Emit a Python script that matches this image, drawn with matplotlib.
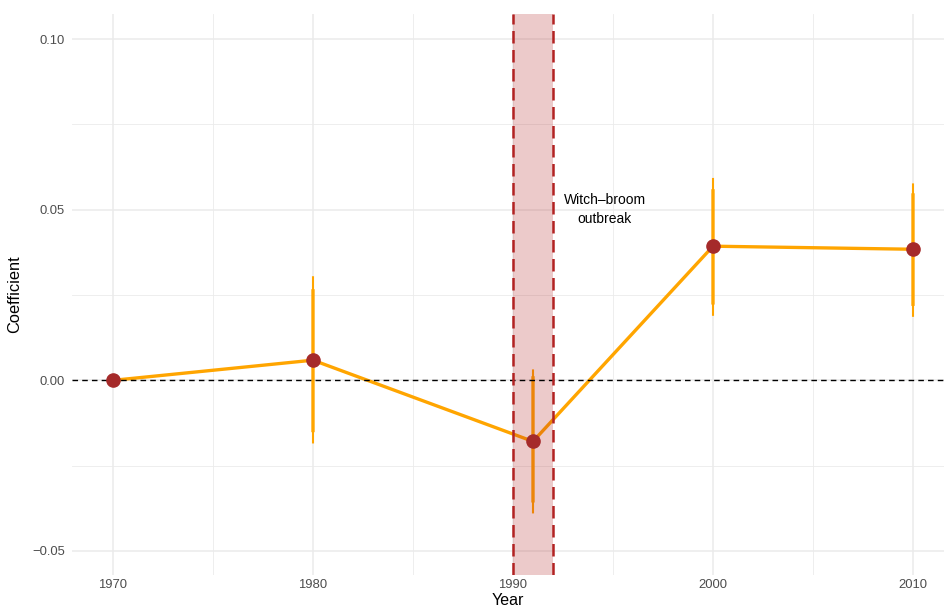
import numpy as np
import matplotlib
matplotlib.use("Agg")
import matplotlib.pyplot as plt
from matplotlib.ticker import FixedLocator

plt.rcParams['font.family'] = ['Liberation Sans', 'DejaVu Sans']

# event-study coefficients
years = [1970, 1980, 1991, 2000, 2010]
coef = [0.0, 0.0059, -0.0179, 0.0393, 0.0384]
ci95_lo = [0.0, -0.0185, -0.0390, 0.0189, 0.0186]
ci95_hi = [0.0, 0.0305, 0.0032, 0.0593, 0.0577]
ci90_lo = [0.0, -0.0152, -0.0358, 0.0222, 0.0218]
ci90_hi = [0.0, 0.0267, 0.0012, 0.0560, 0.0548]
outbreak = (1990, 1992)
note = "Witch\u2013broom\noutbreak"

line_col = '#FFA500'
dot_col = '#A52A2A'
shade_col = '#B22222'
grid_col = '#EBEBEB'

fig = plt.figure(figsize=(9.44, 6.12), dpi=100)
ax = fig.add_axes([72/944, 37/612, 872/944, 561/612])

# light ggplot-like grid
ax.set_xlim(1967.95, 2011.55)
ax.set_ylim(-0.05704, 0.10733)
ax.xaxis.set_major_locator(FixedLocator([1970, 1980, 1990, 2000, 2010]))
ax.xaxis.set_minor_locator(FixedLocator([1975, 1985, 1995, 2005]))
ax.yaxis.set_major_locator(FixedLocator([-0.05, 0.0, 0.05, 0.10]))
ax.yaxis.set_minor_locator(FixedLocator([-0.025, 0.025, 0.075]))
ax.grid(True, which='major', color=grid_col, lw=1.1, zorder=0)
ax.grid(True, which='minor', color=grid_col, lw=0.6, zorder=0)
ax.set_axisbelow(True)
for s in ax.spines.values():
    s.set_visible(False)
ax.tick_params(which='both', length=0, labelsize=9.4, labelcolor='#4D4D4D')
ax.tick_params(axis='y', pad=5)
ax.tick_params(axis='x', pad=3)
ax.set_yticklabels(['\u22120.05', '0.00', '0.05', '0.10'])
ax.set_xticklabels([str(y) for y in [1970, 1980, 1990, 2000, 2010]])

ax.axhline(0, color='black', lw=1.0, ls=(0, (4, 3)), zorder=4)

# coefficient path and intervals (no snapping so both widths share a centre)
ax.plot(years, coef, color=line_col, lw=2.4, zorder=2, solid_capstyle='butt')
ax.vlines(years[1:], ci95_lo[1:], ci95_hi[1:], color=line_col, lw=1.5,
          zorder=2, snap=False)
ax.vlines(years[1:], ci90_lo[1:], ci90_hi[1:], color=line_col, lw=2.4,
          zorder=2, snap=False)

ax.axvspan(outbreak[0], outbreak[1], color=shade_col, alpha=0.24, lw=0, zorder=3)
for xv in outbreak:
    ax.axvline(xv, color=shade_col, lw=1.8, ls=(0, (5, 2.6)), zorder=4)

ax.plot(years, coef, 'o', color=dot_col, ms=9.5, zorder=5)

ax.text(1994.6, 0.05, note, ha='center', va='center', fontsize=10,
        linespacing=1.45, color='black', zorder=6)

ax.set_ylabel('Coefficient', fontsize=11.8, labelpad=7)
ax.set_xlabel('Year', fontsize=11.5, labelpad=1)

fig.savefig('out.png', dpi=100)
